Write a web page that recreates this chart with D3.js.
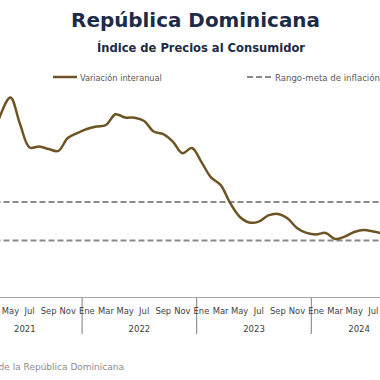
<!DOCTYPE html>
<html><head><meta charset="utf-8">
<script src="https://cdn.jsdelivr.net/npm/d3@7"></script>
<style>body{margin:0;background:#fff;overflow:hidden}svg{display:block}</style>
</head><body>
<svg id="c" width="380" height="380"></svg>
<script>
// ---- data ----
const years = ["2021", "2022", "2023", "2024"];
const monthNames = ["Ene","Feb","Mar","Abr","May","Jun","Jul","Ago","Sep","Oct","Nov","Dic"];
const monthsIn2024 = 10;
// Variación interanual (%), Jan 2021 - Aug 2024
const inflation = [5.3, 6.5, 8.0, 9.6, 10.44, 9.06, 7.84, 7.89, 7.76, 7.66, 8.33, 8.59,
                   8.80, 8.93, 9.01, 9.57, 9.40, 9.39, 9.22, 8.67, 8.54, 8.15, 7.54, 7.81,
                   7.08, 6.28, 5.89, 4.95, 4.23, 3.93, 3.98, 4.30, 4.38, 4.15, 3.65, 3.39,
                   3.31, 3.39, 3.07, 3.20, 3.44, 3.54, 3.46, 3.35];
const targetRange = [3, 5];
const title = "República Dominicana";
const subtitle = "Índice de Precios al Consumidor";
const legendLabels = ["Variación interanual", "Rango-meta de inflación"];
const source = "Fuente: Banco Central de la República Dominicana";

// ---- build ----
const months = [];
years.forEach((y, yi) => {
  const n = yi === years.length - 1 ? monthsIn2024 : 12;
  for (let m = 0; m < n; m++) months.push({key: y + "-" + m, year: y, m});
});
const bw = 9.55;
const x0 = -32.5;
const x = d3.scaleBand().domain(months.map(d => d.key)).range([x0, x0 + bw * months.length]).padding(0);
const y = d3.scaleLinear().domain([0, 11]).range([298, 298 - 19.2 * 11]);
const cx = k => x(k) + x.bandwidth() / 2;
const W = 380;

const svg = d3.select("#c");
const font = "'DejaVu Sans', sans-serif";
const brown = "#6e5325";
const grey = "#8a8a8a";

function fitText(sel, w) {
  const n = sel.node();
  const fs = parseFloat(sel.attr("font-size"));
  const cw = n.getComputedTextLength();
  sel.attr("font-size", (fs * w / cw).toFixed(2));
}

// Title & subtitle
svg.append("text").attr("x", 195.5).attr("y", 27).attr("text-anchor", "middle")
  .attr("font-family", font).attr("font-weight", "bold").attr("font-size", 22)
  .attr("fill", "#1c2b47").text(title).call(fitText, 249);
svg.append("text").attr("x", 201).attr("y", 52).attr("text-anchor", "middle")
  .attr("font-family", font).attr("font-weight", "bold").attr("font-size", 13)
  .attr("fill", "#1c2b47").text(subtitle).call(fitText, 208);

// Legend
const lg = svg.append("g");
lg.append("line").attr("x1", 53).attr("x2", 77).attr("y1", 77).attr("y2", 77)
  .attr("stroke", brown).attr("stroke-width", 2.5);
lg.append("text").attr("x", 80).attr("y", 80.5).attr("font-family", font).attr("font-size", 9)
  .attr("fill", "#595959").text(legendLabels[0]).call(fitText, 82);
lg.append("line").attr("x1", 247).attr("x2", 272).attr("y1", 77).attr("y2", 77)
  .attr("stroke", grey).attr("stroke-width", 2).attr("stroke-dasharray", "6,3");
lg.append("text").attr("x", 275).attr("y", 80.5).attr("font-family", font).attr("font-size", 9)
  .attr("fill", "#595959").text(legendLabels[1]).call(fitText, 105);

// Target range dashed lines
svg.append("g").selectAll("line").data(targetRange).join("line")
  .attr("x1", x0).attr("x2", x0 + bw * months.length)
  .attr("y1", d => y(d)).attr("y2", d => y(d))
  .attr("stroke", grey).attr("stroke-width", 2).attr("stroke-dasharray", "6,3");

// Axis line
svg.append("line").attr("x1", x0).attr("x2", x0 + bw * months.length)
  .attr("y1", 297.5).attr("y2", 297.5).attr("stroke", "#a6a6a6").attr("stroke-width", 1);

// Year separators
const yearStarts = years.map(yv => months.find(d => d.year === yv));
svg.append("g").selectAll("line").data(yearStarts.slice(1)).join("line")
  .attr("x1", d => x(d.key)).attr("x2", d => x(d.key))
  .attr("y1", 297.5).attr("y2", 334).attr("stroke", "#7f7f7f").attr("stroke-width", 1);

// Month labels (every 2 months, those inside the visible window)
svg.append("g").selectAll("text")
  .data(months.filter(d => d.m % 2 === 0 && cx(d.key) > 6 && cx(d.key) < W - 6)).join("text")
  .attr("x", d => cx(d.key)).attr("y", 313.5).attr("text-anchor", "middle")
  .attr("font-family", font).attr("font-size", 8.4).attr("fill", "#404040")
  .text(d => monthNames[d.m]);

// Year labels
svg.append("g").selectAll("text").data(years).join("text")
  .attr("x", yv => {
    const ms = months.filter(d => d.year === yv);
    return (x(ms[0].key) + x(ms[ms.length - 1].key) + x.bandwidth()) / 2;
  })
  .attr("y", 331.5).attr("text-anchor", "middle")
  .attr("font-family", font).attr("font-size", 8.5).attr("fill", "#404040")
  .text(d => d);

// Inflation line
const line = d3.line().x((d, i) => cx(months[i].key)).y(d => y(d)).curve(d3.curveCatmullRom.alpha(0.5));
svg.append("path").datum(inflation).attr("d", line)
  .attr("fill", "none").attr("stroke", brown).attr("stroke-width", 2.5);

// Source
svg.append("text").attr("x", 124).attr("y", 370).attr("text-anchor", "end")
  .attr("font-family", font).attr("font-size", 9).attr("fill", "#8c8c8c").text(source);
</script>
</body></html>
